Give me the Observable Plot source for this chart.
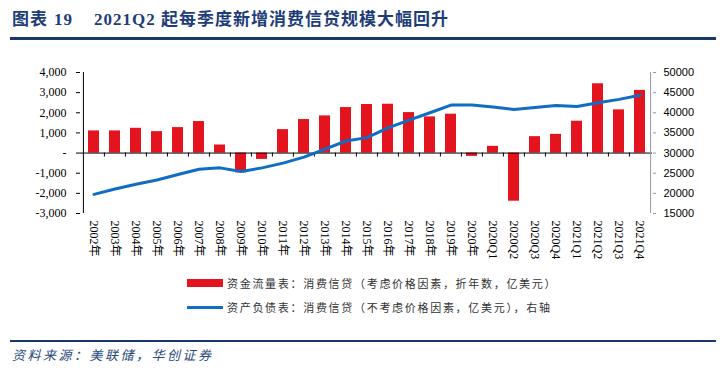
<!DOCTYPE html>
<html><head><meta charset="utf-8">
<script src="https://cdn.jsdelivr.net/npm/d3@7"></script>
<script src="https://cdn.jsdelivr.net/npm/@observablehq/plot@0.6"></script>
<style>
html,body{margin:0;padding:0;background:#fff;}
body{width:726px;height:383px;position:relative;overflow:hidden;font-family:"Liberation Serif","Noto Sans CJK SC",serif;}
#title{position:absolute;left:12px;top:9px;line-height:22px;font-size:17px;font-weight:bold;color:#1d3d78;white-space:nowrap;letter-spacing:1px;}
#title .num{margin-left:6px;margin-right:21px;}
#rule1{position:absolute;left:10px;width:706px;top:37px;height:3px;background:#17386b;}
#chart{position:absolute;left:0;top:55px;}
.leg{position:absolute;left:187px;font-size:11px;letter-spacing:1.7px;color:#333;white-space:nowrap;font-family:"Noto Sans CJK SC",sans-serif;}
.leg .sw{position:absolute;left:0;width:36px;}
.leg .tx{position:absolute;left:40px;top:-8px;line-height:16px;}
#rule2{position:absolute;left:10px;width:706px;top:340px;height:2px;background:#17386b;}
#source{position:absolute;left:12px;top:346px;line-height:18px;font-size:13px;font-style:italic;letter-spacing:2.5px;color:#2a4a7a;white-space:nowrap;font-family:"Noto Sans CJK SC",sans-serif;}
</style></head>
<body>
<div id="title">图表<span class="num">19</span>2021Q2 起每季度新增消费信贷规模大幅回升</div>
<div id="rule1"></div>
<div id="chart"></div>
<div class="leg" style="top:283px"><div class="sw" style="top:-4px;height:8px;background:#e3141d"></div><div class="tx" id="leg1"></div></div>
<div class="leg" style="top:307px"><div class="sw" style="top:-1.5px;height:3px;background:#0f6dc4"></div><div class="tx" id="leg2"></div></div>
<div id="rule2"></div>
<div id="source">资料来源：美联储，华创证券</div>
<script>
const categories = ["2002年","2003年","2004年","2005年","2006年","2007年","2008年","2009年","2010年","2011年","2012年","2013年","2014年","2015年","2016年","2017年","2018年","2019年","2020年","2020Q1","2020Q2","2020Q3","2020Q4","2021Q1","2021Q2","2021Q3","2021Q4"];
// 资金流量表：消费信贷（考虑价格因素，折年数，亿美元） — left axis
const flowValues = [1100,1100,1230,1065,1265,1565,400,-980,-315,1165,1665,1845,2260,2410,2425,2010,1795,1930,-165,335,-2390,815,930,1580,3440,2145,3110];
// 资产负债表：消费信贷（不考虑价格因素，亿美元） — right axis
const stockValues = [19750,21080,22250,23330,24670,26000,26330,25420,26330,27500,29000,31000,33000,33830,36250,38170,40000,41920,41920,41420,40830,41330,41830,41580,42500,43330,44330];
const leftTicks = [-3000,-2000,-1000,0,1000,2000,3000,4000];
const rightTicks = [15000,20000,25000,30000,35000,40000,45000,50000];
const seriesNames = ["资金流量表：消费信贷（考虑价格因素，折年数，亿美元）","资产负债表：消费信贷（不考虑价格因素，亿美元），右轴"];

document.getElementById("leg1").textContent = seriesNames[0];
document.getElementById("leg2").textContent = seriesNames[1];

const W = 726, H = 215, mL = 80, mR = 74, mT = 17, mB = 57;
const step = (W - mL - mR) / categories.length;
// map right-axis domain [15000,50000] onto left-axis domain [-3000,4000]
const r0 = rightTicks[0], r1 = rightTicks[rightTicks.length-1];
const l0 = leftTicks[0], l1 = leftTicks[leftTicks.length-1];
const toLeft = v => l0 + (v - r0) * (l1 - l0) / (r1 - r0);
const fromLeft = v => String(Math.round(r0 + (v - l0) * (r1 - r0) / (l1 - l0)));
const rows = categories.map((c, i) => ({c, flow: flowValues[i], stock: toLeft(stockValues[i])}));
const fmtLeft = d => d === 0 ? "-" : (d < 0 ? "-" : "") + d3.format(",")(Math.abs(d));

const chart = Plot.plot({
  width: W, height: H, marginLeft: mL, marginRight: mR, marginTop: mT, marginBottom: mB,
  x: {type: "band", domain: categories, paddingInner: 0.48, paddingOuter: 0.24},
  y: {domain: [l0, l1]},
  style: {fontFamily: "'Liberation Serif','Noto Sans CJK SC',serif", fontSize: "12px", color: "#000", background: "transparent"},
  marks: [
    Plot.barY(rows, {x: "c", y: "flow", fill: "#e3141d"}),
    Plot.ruleY([0], {stroke: "#000", strokeWidth: 1}),
    Plot.ruleX(categories.slice(1), {x: d => d, y1: 0, y2: 0, dx: -step/2, insetBottom: -4, stroke: "#000"}),
    Plot.ruleX([categories[0]], {x: d => d, dx: -step/2, stroke: "#000"}),
    Plot.ruleX([categories[categories.length-1]], {x: d => d, dx: step/2, stroke: "#999"}),
    Plot.lineY(rows, {x: "c", y: "stock", stroke: "#0f6dc4", strokeWidth: 3}),
    Plot.axisY({anchor: "left", ticks: leftTicks, tickFormat: fmtLeft, tickSize: 4, tickPadding: 10, label: null, fontSize: 12}),
    Plot.axisY({anchor: "right", ticks: leftTicks, tickFormat: fromLeft, tickSize: 3, tickPadding: 8, label: null, stroke: "#999", fill: "#000", fontFamily: "'Liberation Sans',sans-serif", fontSize: 11}),
    Plot.axisX({anchor: "bottom", tickSize: 0, tickRotate: 90, tickPadding: 7, label: null, fontSize: 12})
  ]
});
document.getElementById("chart").appendChild(chart);
</script>
</body></html>
